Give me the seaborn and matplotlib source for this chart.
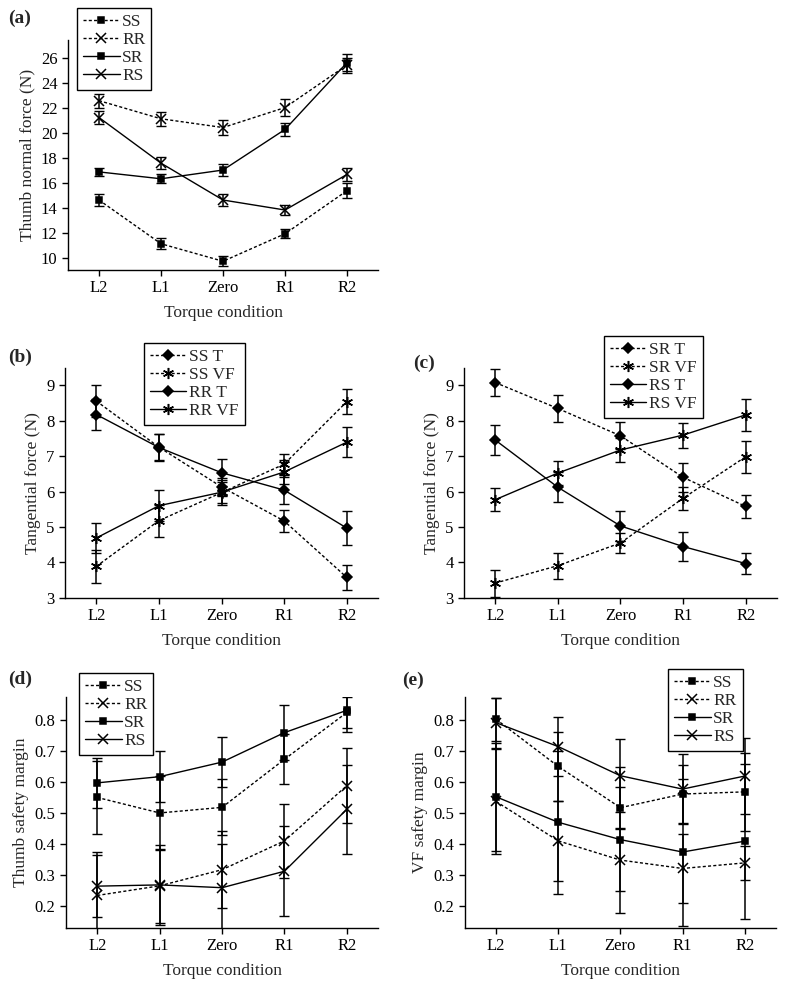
import numpy as np
import pandas as pd
import matplotlib.pyplot as plt
import seaborn as sns

# Torque conditions on the x axis
conditions = ['L2', 'L1', 'Zero', 'R1', 'R2']

# (a) Thumb normal force (N)
a_ss = [14.6, 11.1, 9.7, 11.9, 15.35]
a_ss_err = [0.45, 0.45, 0.4, 0.35, 0.6]
a_rr = [22.55, 21.1, 20.4, 22.0, 25.4]
a_rr_err = [0.55, 0.55, 0.6, 0.7, 0.6]
a_sr = [16.85, 16.3, 17.0, 20.25, 25.6]
a_sr_err = [0.35, 0.35, 0.5, 0.55, 0.7]
a_rs = [21.2, 17.55, 14.6, 13.8, 16.65]
a_rs_err = [0.5, 0.5, 0.5, 0.4, 0.5]

# (b) Tangential force (N), SS and RR
b_ss_t = [8.55, 7.25, 6.13, 5.17, 3.58]
b_ss_t_err = [0.45, 0.37, 0.25, 0.3, 0.35]
b_ss_vf = [3.89, 5.18, 5.97, 6.77, 8.53]
b_ss_vf_err = [0.47, 0.45, 0.3, 0.3, 0.35]
b_rr_t = [8.17, 7.24, 6.53, 6.04, 4.97]
b_rr_t_err = [0.45, 0.38, 0.38, 0.38, 0.47]
b_rr_vf = [4.69, 5.6, 5.98, 6.55, 7.39]
b_rr_vf_err = [0.43, 0.44, 0.35, 0.35, 0.42]

# (c) Tangential force (N), SR and RS
c_sr_t = [9.07, 8.34, 7.57, 6.4, 5.58]
c_sr_t_err = [0.37, 0.37, 0.38, 0.4, 0.33]
c_sr_vf = [3.42, 3.91, 4.55, 5.81, 6.98]
c_sr_vf_err = [0.38, 0.37, 0.28, 0.33, 0.45]
c_rs_t = [7.45, 6.12, 5.03, 4.45, 3.97]
c_rs_t_err = [0.43, 0.42, 0.42, 0.4, 0.3]
c_rs_vf = [5.77, 6.52, 7.17, 7.59, 8.16]
c_rs_vf_err = [0.32, 0.33, 0.33, 0.35, 0.45]

# (d) Thumb safety margin
d_ss = [0.55, 0.50, 0.518, 0.673, 0.824]
d_ss_err = [0.118, 0.12, 0.09, 0.08, 0.05]
d_rr = [0.234, 0.265, 0.317, 0.41, 0.588]
d_rr_err = [0.14, 0.12, 0.125, 0.12, 0.12]
d_sr = [0.597, 0.617, 0.664, 0.759, 0.831]
d_sr_err = [0.08, 0.083, 0.08, 0.088, 0.07]
d_rs = [0.264, 0.268, 0.259, 0.312, 0.512]
d_rs_err = [0.1, 0.13, 0.14, 0.145, 0.143]

# (e) VF safety margin
e_ss = [0.802, 0.65, 0.517, 0.561, 0.568]
e_ss_err = [0.07, 0.11, 0.067, 0.095, 0.125]
e_rr = [0.537, 0.41, 0.348, 0.321, 0.339]
e_rr_err = [0.17, 0.128, 0.1, 0.11, 0.055]
e_sr = [0.552, 0.47, 0.414, 0.374, 0.409]
e_sr_err = [0.175, 0.23, 0.235, 0.237, 0.25]
e_rs = [0.791, 0.714, 0.62, 0.577, 0.619]
e_rs_err = [0.08, 0.095, 0.117, 0.112, 0.122]

sns.set_theme(style="ticks")
plt.rcParams['font.family'] = ['Liberation Serif', 'DejaVu Serif']

DASH = (0, (2.2, 1.6))
ASTER = (6, 2, 0)
x_pos = np.arange(len(conditions))


def desenhar_serie(ax, vals, errs, label, ls, marker, ms):
    df = pd.DataFrame({'x': x_pos, 'y': vals})
    ax.errorbar(df['x'], df['y'], yerr=errs, fmt='none', ecolor='black',
                elinewidth=1.1, capsize=3.5, capthick=1.0, zorder=2)
    sns.lineplot(data=df, x='x', y='y', ax=ax, color='black', linestyle=ls,
                 linewidth=1.0, marker=marker, markersize=ms,
                 markeredgecolor='black', markerfacecolor='black',
                 markeredgewidth=1.1, label=label, zorder=3)


def formatar_eixo(ax, ylabel, ylim, yticks, fmt):
    ax.set_xlim(-0.5, 4.5)
    ax.set_ylim(*ylim)
    ax.set_xticks(x_pos)
    ax.set_xticklabels(conditions)
    ax.set_yticks(yticks)
    ax.set_yticklabels([fmt.format(t) for t in yticks])
    ax.set_xlabel('Torque condition', fontsize=12.5, labelpad=6)
    ax.set_ylabel(ylabel, fontsize=12.5, labelpad=4)
    ax.tick_params(labelsize=12, length=4, width=1, colors='black')
    for s in ['top', 'right']:
        ax.spines[s].set_visible(False)
    for s in ['left', 'bottom']:
        ax.spines[s].set_linewidth(1.0)
        ax.spines[s].set_color('black')


def legenda(ax, fig, anchor):
    leg = ax.legend(loc='upper left', bbox_to_anchor=anchor,
                    bbox_transform=fig.transFigure, borderaxespad=0,
                    fontsize=12.5, handlelength=2.1, handletextpad=0.15,
                    labelspacing=0.1, borderpad=0.35, fancybox=False,
                    framealpha=1, edgecolor='black', numpoints=1)
    leg.get_frame().set_linewidth(1.0)


fig = plt.figure(figsize=(7.86, 9.84), dpi=100)

ax_a = fig.add_axes([0.0865, 0.7256, 0.3945, 0.2337])
ax_b = fig.add_axes([0.0827, 0.3923, 0.3983, 0.2337])
ax_c = fig.add_axes([0.5903, 0.3923, 0.3982, 0.2337])
ax_d = fig.add_axes([0.0840, 0.0569, 0.3970, 0.2348])
ax_e = fig.add_axes([0.5916, 0.0569, 0.3954, 0.2348])

# (a)
desenhar_serie(ax_a, a_ss, a_ss_err, 'SS', DASH, 's', 5)
desenhar_serie(ax_a, a_rr, a_rr_err, 'RR', DASH, 'x', 7.5)
desenhar_serie(ax_a, a_sr, a_sr_err, 'SR', '-', 's', 5)
desenhar_serie(ax_a, a_rs, a_rs_err, 'RS', '-', 'x', 7.5)
formatar_eixo(ax_a, 'Thumb normal force (N)', (9.0, 27.4), list(range(10, 27, 2)), '{:.0f}')
legenda(ax_a, fig, (0.098, 0.992))

# (b)
desenhar_serie(ax_b, b_ss_t, b_ss_t_err, 'SS T', DASH, 'D', 5)
desenhar_serie(ax_b, b_ss_vf, b_ss_vf_err, 'SS VF', DASH, ASTER, 8)
desenhar_serie(ax_b, b_rr_t, b_rr_t_err, 'RR T', '-', 'D', 5)
desenhar_serie(ax_b, b_rr_vf, b_rr_vf_err, 'RR VF', '-', ASTER, 8)
formatar_eixo(ax_b, 'Tangential force (N)', (3.0, 9.48), list(range(3, 10)), '{:.0f}')
legenda(ax_b, fig, (0.183, 0.6514))

# (c)
desenhar_serie(ax_c, c_sr_t, c_sr_t_err, 'SR T', DASH, 'D', 5)
desenhar_serie(ax_c, c_sr_vf, c_sr_vf_err, 'SR VF', DASH, ASTER, 8)
desenhar_serie(ax_c, c_rs_t, c_rs_t_err, 'RS T', '-', 'D', 5)
desenhar_serie(ax_c, c_rs_vf, c_rs_vf_err, 'RS VF', '-', ASTER, 8)
formatar_eixo(ax_c, 'Tangential force (N)', (3.0, 9.48), list(range(3, 10)), '{:.0f}')
legenda(ax_c, fig, (0.7684, 0.6585))

# (d)
desenhar_serie(ax_d, d_ss, d_ss_err, 'SS', DASH, 's', 5)
desenhar_serie(ax_d, d_rr, d_rr_err, 'RR', DASH, 'x', 7.5)
desenhar_serie(ax_d, d_sr, d_sr_err, 'SR', '-', 's', 5)
desenhar_serie(ax_d, d_rs, d_rs_err, 'RS', '-', 'x', 7.5)
formatar_eixo(ax_d, 'Thumb safety margin', (0.129, 0.874),
              [0.2, 0.3, 0.4, 0.5, 0.6, 0.7, 0.8], '{:.1f}')
legenda(ax_d, fig, (0.1005, 0.316))

# (e)
desenhar_serie(ax_e, e_ss, e_ss_err, 'SS', DASH, 's', 5)
desenhar_serie(ax_e, e_rr, e_rr_err, 'RR', DASH, 'x', 7.5)
desenhar_serie(ax_e, e_sr, e_sr_err, 'SR', '-', 's', 5)
desenhar_serie(ax_e, e_rs, e_rs_err, 'RS', '-', 'x', 7.5)
formatar_eixo(ax_e, 'VF safety margin', (0.129, 0.874),
              [0.2, 0.3, 0.4, 0.5, 0.6, 0.7, 0.8], '{:.1f}')
legenda(ax_e, fig, (0.85, 0.3201))

# rótulos dos painéis
for txt, px, py in [('(a)', 8, 18), ('(b)', 8, 357), ('(c)', 413, 363),
                    ('(d)', 8, 679), ('(e)', 402, 680)]:
    fig.text(px / 786, 1 - py / 984, txt, fontsize=14, fontweight='bold',
             va='center', ha='left')

plt.savefig('out.png', dpi=100)
plt.close()
